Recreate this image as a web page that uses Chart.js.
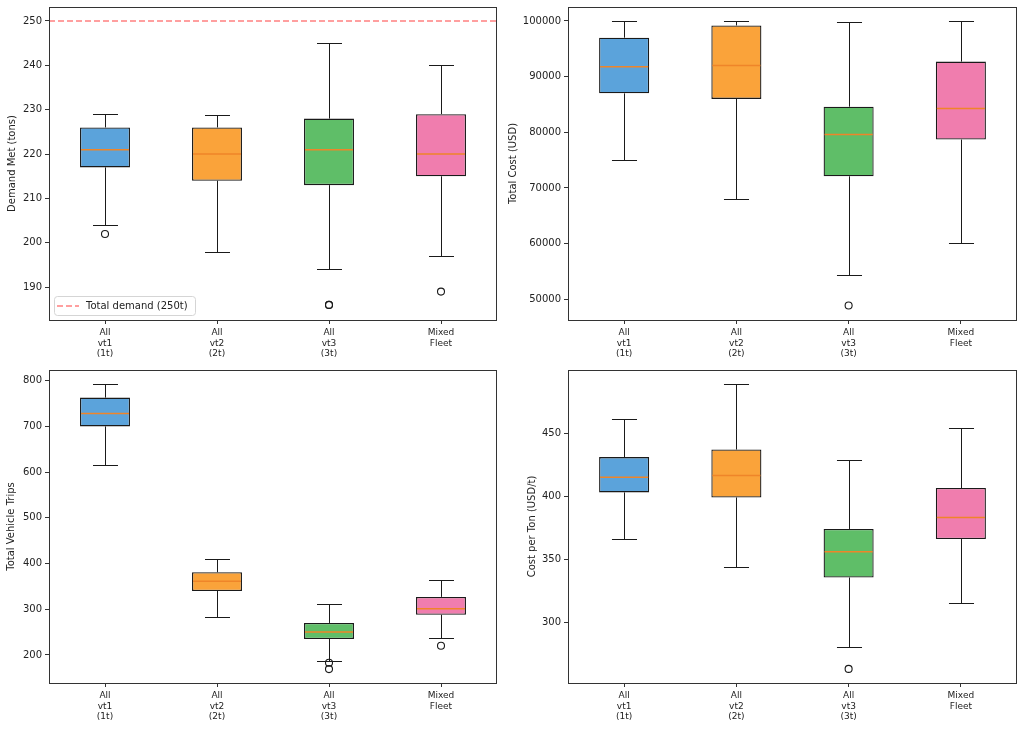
<!DOCTYPE html>
<html>
<head>
<meta charset="utf-8">
<script src="https://cdn.jsdelivr.net/npm/chart.js@4.4.1/dist/chart.umd.min.js"></script>
<style>
  html, body { margin: 0; padding: 0; background: #fff; }
  #wrap { position: relative; width: 1024px; height: 729px; overflow: hidden; }
  canvas { position: absolute; }
</style>
</head>
<body>
<div id="wrap">
  <canvas id="c1" width="512" height="365" style="left:0;top:0;width:512px;height:365px"></canvas>
  <canvas id="c2" width="529" height="365" style="left:495px;top:0;width:529px;height:365px"></canvas>
  <canvas id="c3" width="512" height="364" style="left:0;top:365px;width:512px;height:364px"></canvas>
  <canvas id="c4" width="512" height="364" style="left:512px;top:365px;width:512px;height:364px"></canvas>
</div>
<script>
// categories and colours shared by the four panels
const categories = [['All', 'vt1', '(1t)'], ['All', 'vt2', '(2t)'], ['All', 'vt3', '(3t)'], ['Mixed', 'Fleet']];
const boxColors = ['#5ba3db', '#faa33a', '#5fbe68', '#f07dae'];

// Demand met (tons)
const demandLow = [204, 198, 194, 197];
const demandQ1 = [217, 214, 213, 215];
const demandMedian = [221, 220, 221, 220];
const demandQ3 = [226, 226, 228, 229];
const demandHigh = [229, 228.7, 245, 240];
const demandOutliers = [[202], [], [186, 186], [189]];
const demandTicks = [190, 200, 210, 220, 230, 240, 250];
const totalDemand = 250;

// Total cost (USD)
const costLow = [75100, 68100, 54300, 60200];
const costQ1 = [87000, 86000, 72100, 78700];
const costMedian = [91800, 92000, 79600, 84300];
const costQ3 = [97000, 99200, 84600, 92700];
const costHigh = [100000, 100000, 99900, 100000];
const costOutliers = [[], [], [48900], []];
const costTicks = [50000, 60000, 70000, 80000, 90000, 100000];

// Total vehicle trips
const tripsLow = [616, 283, 187, 236];
const tripsQ1 = [700, 340, 235, 288];
const tripsMedian = [728, 361, 250, 301];
const tripsQ3 = [763, 381, 270, 327];
const tripsHigh = [792, 410, 312, 364];
const tripsOutliers = [[], [], [183, 169], [220]];
const tripsTicks = [200, 300, 400, 500, 600, 700, 800];

// Cost per ton (USD/t)
const cptLow = [366, 344, 280, 315];
const cptQ1 = [403, 399, 335.5, 366];
const cptMedian = [415, 416.5, 356, 383];
const cptQ3 = [431, 437, 374, 406.5];
const cptHigh = [461, 489, 429, 454];
const cptOutliers = [[], [], [263], []];
const cptTicks = [300, 350, 400, 450];

Chart.defaults.font.family = "'DejaVu Sans', sans-serif";
Chart.defaults.color = '#222';

// whiskers, caps, medians, frame and (optional) reference line + legend
const boxParts = {
  id: 'boxParts',
  afterDatasetsDraw(chart) {
    const ds = chart.data.datasets[0];
    const y = chart.scales.y;
    const ctx = chart.ctx;
    const area = chart.chartArea;
    ctx.save();
    chart.getDatasetMeta(0).data.forEach((bar, i) => {
      const p = bar.getProps(['x', 'width'], true);
      const cx = Math.round(p.x) + 0.5;
      const half = p.width / 2, cap = p.width / 4;
      const yHi = Math.round(y.getPixelForValue(ds.high[i])) + 0.5;
      const yLo = Math.round(y.getPixelForValue(ds.low[i])) + 0.5;
      ctx.strokeStyle = '#1a1a1a';
      ctx.lineWidth = 1;
      ctx.beginPath();
      ctx.moveTo(cx, y.getPixelForValue(ds.data[i][1])); ctx.lineTo(cx, yHi);
      ctx.moveTo(cx, y.getPixelForValue(ds.data[i][0])); ctx.lineTo(cx, yLo);
      ctx.moveTo(cx - cap, yHi); ctx.lineTo(cx + cap, yHi);
      ctx.moveTo(cx - cap, yLo); ctx.lineTo(cx + cap, yLo);
      ctx.stroke();
      const ym = y.getPixelForValue(ds.median[i]);
      ctx.strokeStyle = '#ef8529';
      ctx.lineWidth = 1.5;
      ctx.beginPath();
      ctx.moveTo(p.x - half + 1, ym); ctx.lineTo(p.x + half - 1, ym);
      ctx.stroke();
    });

    if (ds.refLine !== undefined) {
      const yr = y.getPixelForValue(ds.refLine);
      ctx.strokeStyle = 'rgba(255, 60, 60, 0.65)';
      ctx.lineWidth = 1.3;
      ctx.setLineDash([6, 3]);
      ctx.beginPath();
      ctx.moveTo(area.left, yr); ctx.lineTo(area.right, yr);
      ctx.stroke();

      // legend box
      const lx = area.left + 5, lw = 141, lh = 19, ly = area.bottom - 5 - lh;
      ctx.setLineDash([]);
      ctx.fillStyle = 'rgba(255,255,255,0.8)';
      ctx.strokeStyle = '#d5d5d5';
      ctx.lineWidth = 1;
      ctx.beginPath();
      ctx.roundRect(lx + 0.5, ly + 0.5, lw, lh, 3);
      ctx.fill();
      ctx.stroke();
      ctx.strokeStyle = 'rgba(255, 60, 60, 0.65)';
      ctx.lineWidth = 1.3;
      ctx.setLineDash([6, 3]);
      ctx.beginPath();
      ctx.moveTo(lx + 3, ly + lh / 2 + 0.5); ctx.lineTo(lx + 25, ly + lh / 2 + 0.5);
      ctx.stroke();
      ctx.setLineDash([]);
      ctx.fillStyle = '#222';
      ctx.font = "10px 'DejaVu Sans', sans-serif";
      ctx.textBaseline = 'middle';
      ctx.fillText(ds.refLabel, lx + 32, ly + lh / 2 + 1);
    }

    ctx.strokeStyle = '#333';
    ctx.lineWidth = 1;
    ctx.strokeRect(Math.round(area.left) + 0.5, Math.round(area.top) + 0.5,
      Math.round(area.right - area.left) - 1, Math.round(area.bottom - area.top));
    ctx.restore();
  }
};

function makeBoxChart(id, s) {
  const outlierSets = [];
  const maxOut = Math.max(...s.outliers.map(a => a.length));
  for (let k = 0; k < maxOut; k++) {
    outlierSets.push({
      type: 'line',
      data: s.outliers.map(a => (a[k] === undefined ? null : a[k])),
      showLine: false,
      pointRadius: 3.5,
      pointHoverRadius: 3.5,
      pointBorderColor: '#1a1a1a',
      pointBackgroundColor: 'rgba(0,0,0,0)',
      pointBorderWidth: 1.1
    });
  }
  const boxSet = {
    type: 'bar',
    data: s.q1.map((v, i) => [v, s.q3[i]]),
    low: s.low, high: s.high, median: s.median,
    refLine: s.refLine, refLabel: s.refLabel,
    backgroundColor: boxColors,
    borderColor: '#1a1a1a',
    borderWidth: 1.3,
    borderSkipped: false,
    barPercentage: 0.446,
    categoryPercentage: 1
  };
  return new Chart(document.getElementById(id), {
    type: 'bar',
    data: { labels: categories, datasets: [boxSet].concat(outlierSets) },
    options: {
      responsive: false,
      animation: false,
      layout: { padding: { left: 0, right: s.padRight, top: s.padTop, bottom: 0 } },
      plugins: { legend: { display: false }, tooltip: { enabled: false } },
      scales: {
        x: {
          offset: true,
          grid: { display: true, offset: false, drawOnChartArea: false, drawTicks: true, tickLength: 4, color: '#333' },
          border: { display: false },
          ticks: { font: { size: 9 }, color: '#222', padding: 3, maxRotation: 0, autoSkip: false },
          afterFit: sc => { sc.height = s.xHeight; sc.paddingLeft = 0; sc.paddingRight = 0; }
        },
        y: {
          min: s.min, max: s.max,
          afterBuildTicks: sc => { sc.ticks = s.ticks.map(v => ({ value: v })); },
          afterFit: sc => { sc.width = s.yWidth; sc.paddingTop = 0; sc.paddingBottom = 0; },
          grid: { display: true, drawOnChartArea: false, drawTicks: true, tickLength: 4, color: '#333' },
          border: { display: false },
          ticks: { font: { size: 10 }, color: '#222', padding: 3, callback: v => String(v) },
          title: { display: true, text: s.title, font: { size: 10 }, color: '#222', padding: { top: s.titlePad, bottom: 0 } }
        }
      }
    },
    plugins: [boxParts]
  });
}

makeBoxChart('c1', {
  low: demandLow, q1: demandQ1, median: demandMedian, q3: demandQ3, high: demandHigh,
  outliers: demandOutliers, ticks: demandTicks, min: 182.6, max: 253.15,
  title: 'Demand Met (tons)', refLine: totalDemand, refLabel: 'Total demand (250t)',
  yWidth: 49, padRight: 15, padTop: 7, xHeight: 45, titlePad: 6
});
makeBoxChart('c2', {
  low: costLow, q1: costQ1, median: costMedian, q3: costQ3, high: costHigh,
  outliers: costOutliers, ticks: costTicks, min: 46284, max: 102513,
  title: 'Total Cost (USD)',
  yWidth: 73, padRight: 7, padTop: 7, xHeight: 45, titlePad: 12
});
makeBoxChart('c3', {
  low: tripsLow, q1: tripsQ1, median: tripsMedian, q3: tripsQ3, high: tripsHigh,
  outliers: tripsOutliers, ticks: tripsTicks, min: 138.6, max: 823.4,
  title: 'Total Vehicle Trips',
  yWidth: 49, padRight: 15, padTop: 5, xHeight: 46, titlePad: 5
});
makeBoxChart('c4', {
  low: cptLow, q1: cptQ1, median: cptMedian, q3: cptQ3, high: cptHigh,
  outliers: cptOutliers, ticks: cptTicks, min: 251.8, max: 500.1,
  title: 'Cost per Ton (USD/t)',
  yWidth: 56, padRight: 7, padTop: 5, xHeight: 46, titlePad: 14
});
</script>
</body>
</html>
